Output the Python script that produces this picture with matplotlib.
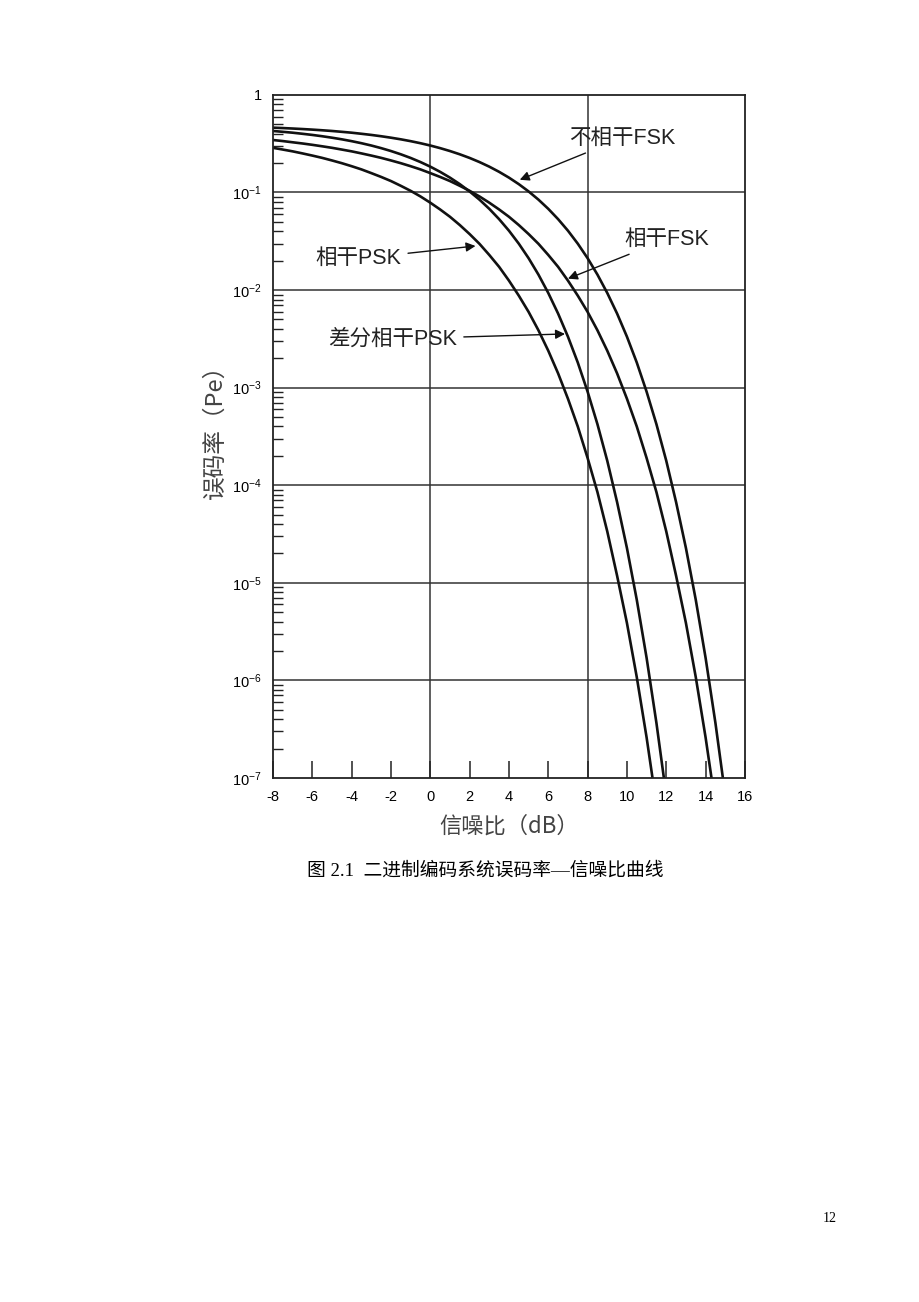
'''
BER vs SNR curves for binary modulation schemes
'''
import matplotlib
matplotlib.use('Agg')
import matplotlib.pyplot as plt

# values (SNR in dB every 0.5 dB, error probability)
snr_db = [-8 + 0.5 * i for i in range(48)]

pe_psk = [0.287, 0.2754, 0.264, 0.2515, 0.239, 0.2264, 0.213, 0.1997,
          0.186, 0.1724, 0.158, 0.1444, 0.131, 0.1171, 0.104, 0.0911,
          0.0786, 0.0670, 0.0564, 0.0464, 0.0375, 0.0298, 0.0229, 0.0173,
          0.0125, 8.77e-3, 5.97e-3, 3.87e-3, 2.39e-3, 1.40e-3, 7.7e-4, 4.0e-4,
          1.9e-4, 8.5e-5, 3.36e-5, 1.18e-5, 3.87e-6, 1.08e-6, 2.6e-7, 5.3e-8,
          9.0e-9]
pe_dpsk = [0.427, 0.4186, 0.410, 0.3997, 0.389, 0.3772, 0.3644, 0.3507,
           0.3358, 0.3199, 0.303, 0.2849, 0.266, 0.2463, 0.226, 0.2051,
           0.184, 0.1628, 0.142, 0.1218, 0.1025, 0.0845, 0.068, 0.0533,
           0.0406, 0.0299, 0.0212, 0.0144, 9.33e-3, 5.74e-3, 3.33e-3, 1.81e-3,
           9.09e-4, 4.22e-4, 1.78e-4, 6.7e-5, 2.27e-5, 6.7e-6, 1.7e-6, 3.66e-7,
           6.6e-8, 9.5e-9]
pe_fsk = [0.345, 0.3365, 0.327, 0.3179, 0.308, 0.2975, 0.287, 0.2754,
          0.264, 0.2515, 0.239, 0.2264, 0.213, 0.1997, 0.186, 0.1724,
          0.158, 0.1444, 0.131, 0.1171, 0.104, 0.0911, 0.0786, 0.0670,
          0.0564, 0.0464, 0.0375, 0.0298, 0.0229, 0.0173, 0.0125, 8.77e-3,
          5.97e-3, 3.87e-3, 2.39e-3, 1.40e-3, 7.7e-4, 4.0e-4, 1.9e-4, 8.5e-5,
          3.36e-5, 1.18e-5, 3.87e-6, 1.08e-6, 2.6e-7, 5.3e-8, 9.0e-9]
pe_ncfsk = [0.4618, 0.4574, 0.4524, 0.4469, 0.4409, 0.4342, 0.427, 0.4186,
            0.410, 0.3997, 0.389, 0.3772, 0.3644, 0.3507, 0.3358, 0.3199,
            0.303, 0.2849, 0.266, 0.2463, 0.226, 0.2051, 0.184, 0.1628,
            0.142, 0.1218, 0.1025, 0.0845, 0.068, 0.0533, 0.0406, 0.0299,
            0.0212, 0.0144, 9.33e-3, 5.74e-3, 3.33e-3, 1.81e-3, 9.09e-4,
            4.22e-4, 1.78e-4, 6.7e-5, 2.27e-5, 6.7e-6, 1.7e-6, 3.66e-7,
            6.6e-8, 9.5e-9]

x_ticks = [-8, -6, -4, -2, 0, 2, 4, 6, 8, 10, 12, 14, 16]
y_ticks = [1, 1e-1, 1e-2, 1e-3, 1e-4, 1e-5, 1e-6, 1e-7]
y_tick_labels = ['1', r'$\mathdefault{10^{-1}}$', r'$\mathdefault{10^{-2}}$',
                 r'$\mathdefault{10^{-3}}$', r'$\mathdefault{10^{-4}}$',
                 r'$\mathdefault{10^{-5}}$', r'$\mathdefault{10^{-6}}$',
                 r'$\mathdefault{10^{-7}}$']

# (label, text position, arrow tip)
annotations = [
    ('不相干FSK', (7.05, 0.36), (4.55, 0.135)),
    ('相干FSK', (9.85, 0.033), (7.0, 0.0131)),
    ('相干PSK', (-5.85, 0.0210), (2.3, 0.0283)),
    ('差分相干PSK', (-5.2, 0.00315), (6.85, 0.00355)),
]

FONTS = ['Liberation Sans', 'Noto Sans CJK SC', 'DejaVu Sans']
plt.rcParams['font.family'] = FONTS
plt.rcParams['mathtext.fontset'] = 'custom'
plt.rcParams['mathtext.rm'] = 'Liberation Sans'

fig = plt.figure(figsize=(9.2, 13.02), dpi=100)
ax = fig.add_axes([0.2967, 0.4025, 0.513, 0.5246])

for pe in (pe_psk, pe_dpsk, pe_fsk, pe_ncfsk):
    ax.plot(snr_db[:len(pe)], pe, color='#111111', linewidth=1.9,
            solid_joinstyle='round')

ax.set_yscale('log')
ax.set_xlim(-8, 16)
ax.set_ylim(1e-7, 1)

# grid only on decades and at 0 / 8 dB
for yv in y_ticks[1:-1]:
    ax.axhline(yv, color='#333333', linewidth=1.1, zorder=1)
for xv in (0, 8):
    ax.axvline(xv, color='#333333', linewidth=1.1, zorder=1)

for s in ax.spines.values():
    s.set_linewidth(1.3)
    s.set_color('#222222')

ax.set_xticks(x_ticks)
ax.set_xticklabels([str(v) for v in x_ticks])
ax.tick_params(axis='x', direction='in', length=12, width=1.1, pad=9,
               labelsize=10.5, top=False, color='#222222')
ax.set_yticks(y_ticks)
ax.set_yticklabels(y_tick_labels)
ax.tick_params(axis='y', which='major', length=0, pad=8, labelsize=10.5)
ax.tick_params(axis='y', which='minor', direction='in', length=7, width=1.0,
               right=False, color='#222222')

for label, txt_pos, tip in annotations:
    ax.annotate(label, xy=tip, xytext=txt_pos, fontsize=15.5, color='#222222',
                ha='left', va='center', family=FONTS,
                arrowprops=dict(arrowstyle='-|>', color='#111111', lw=1.0,
                                mutation_scale=14, shrinkA=3, shrinkB=0))

ax.set_xlabel('信噪比（dB）', fontsize=16, color='#444444', labelpad=7,
              family=['Noto Sans CJK SC', 'Liberation Sans'])
ax.set_ylabel('误码率（Pe）', fontsize=17, color='#444444',
              family=['Noto Sans CJK SC', 'Liberation Sans'])
ax.yaxis.set_label_coords(-0.097, 0.515)

fig.text(0.334, 1 - 871 / 1302, '图 2.1  二进制编码系统误码率—信噪比曲线',
         fontsize=13.5, ha='left', va='center',
         family=['Liberation Serif', 'Noto Sans CJK SC'])
fig.text(0.894, 1 - 1218 / 1302, '12', fontsize=10, ha='left', va='center',
         family='Liberation Serif')

fig.savefig('out.png', dpi=100)
